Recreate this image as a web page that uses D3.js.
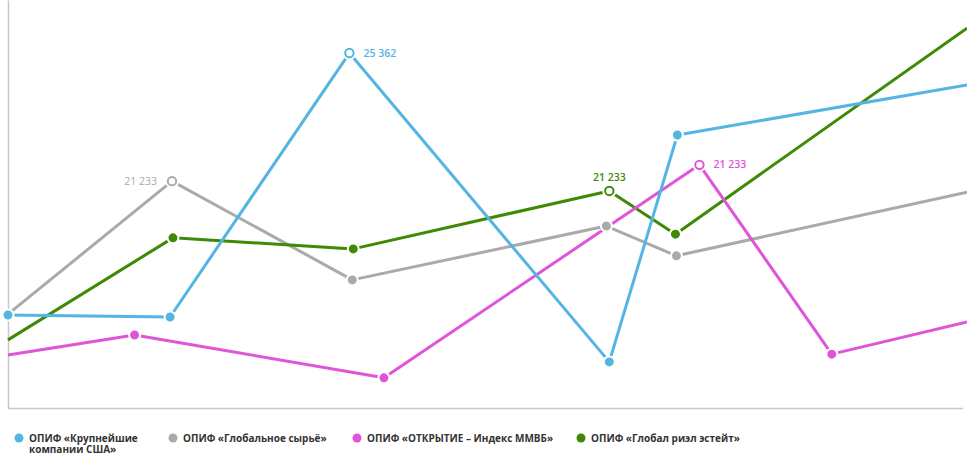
<!DOCTYPE html>
<html><head><meta charset="utf-8">
<script src="https://cdn.jsdelivr.net/npm/d3@7"></script>
<style>
html,body{margin:0;padding:0;background:#fff;}
svg{display:block;font-family:"Open Sans",sans-serif;}
</style></head>
<body>
<svg id="c" width="967" height="454"></svg>
<script>
// ---- data ----
const seriesNames = ["ОПИФ «Крупнейшие компании США»", "ОПИФ «Глобальное сырьё»", "ОПИФ «ОТКРЫТИЕ – Индекс ММВБ»", "ОПИФ «Глобал риэл эстейт»"];
const legendLines = [["ОПИФ «Крупнейшие", "компании США»"], ["ОПИФ «Глобальное сырьё»"], ["ОПИФ «ОТКРЫТИЕ – Индекс ММВБ»"], ["ОПИФ «Глобал риэл эстейт»"]];
const colors = ["#55b5e2", "#aaaaaa", "#e055d8", "#3f8a04"];

// x positions (share of period, 0..100) and index values (0..100)
const usaX    = [0, 16.9, 35.6, 62.7, 69.8, 100];
const usaY    = [22.8, 22.3, 87.0, 11.3, 66.9, 79.2];
const rawX    = [0, 17.1, 35.9, 62.4, 69.7, 100];
const rawY    = [23.0, 55.6, 31.4, 44.6, 37.3, 52.9];
const mmvbX   = [0, 13.2, 39.2, 72.1, 85.9, 100];
const mmvbY   = [13.0, 17.9, 7.4, 59.6, 13.2, 21.1];
const reX     = [0, 17.2, 36.0, 62.7, 69.6, 100];
const reY     = [16.7, 41.7, 39.0, 53.2, 42.6, 93.1];

const markerIdx = [[0,1,2,3,4],[1,2,3,4],[1,2,3,4],[1,2,3,4]];
const highlightIdx = [2, 1, 3, 3];
const highlightLabels = ["25 362", "21 233", "21 233", "21 233"];
const labelPos = ["right", "left", "right", "top"];

const series = [
  {x: usaX, y: usaY}, {x: rawX, y: rawY}, {x: mmvbX, y: mmvbY}, {x: reX, y: reY}
];

// ---- chart ----
const svg = d3.select("#c");
const padL = 8, padR = 967, padT = 0, padB = 408;
const xS = d3.scaleLinear().domain([0, 100]).range([padL, padR]);
const yS = d3.scaleLinear().domain([0, 100]).range([padB, padT]);

// axes lines
const axY = d3.axisLeft(yS).ticks(0).tickSize(0).tickFormat("");
const axX = d3.axisBottom(xS).ticks(0).tickSize(0).tickFormat("");
svg.append("g").attr("transform", `translate(${padL},0)`).call(axY)
  .call(g => g.select(".domain").attr("stroke", "#c8c8c8").attr("stroke-width", 1.5));
svg.append("g").attr("transform", `translate(0,${padB})`).call(axX)
  .call(g => g.select(".domain").attr("stroke", "#c8c8c8").attr("stroke-width", 1.5).attr("d", `M${padL},0.5H${padR-4}`));

const line = d3.line().x(d => xS(d[0])).y(d => yS(d[1]));
const drawOrder = [1, 3, 2, 0];
const pts = series.map(s => s.x.map((v, i) => [v, s.y[i]]));

drawOrder.forEach(k => {
  svg.append("path").datum(pts[k]).attr("d", line)
    .attr("fill", "none").attr("stroke", colors[k]).attr("stroke-width", 3)
    .attr("stroke-linejoin", "round");
});

drawOrder.forEach(k => {
  const g = svg.append("g");
  markerIdx[k].forEach(i => {
    const p = pts[k][i];
    const cx = xS(p[0]), cy = yS(p[1]);
    if (i === highlightIdx[k]) {
      g.append("circle").attr("cx", cx).attr("cy", cy).attr("r", 7).attr("fill", "#fff");
      g.append("circle").attr("cx", cx).attr("cy", cy).attr("r", 4.2)
        .attr("fill", "#fff").attr("stroke", colors[k]).attr("stroke-width", 2);
    } else {
      g.append("circle").attr("cx", cx).attr("cy", cy).attr("r", 5.5)
        .attr("fill", colors[k]).attr("stroke", "#fff").attr("stroke-width", 2);
    }
  });
  const hp = pts[k][highlightIdx[k]];
  const hx = xS(hp[0]), hy = yS(hp[1]);
  const t = g.append("text").text(highlightLabels[k])
    .attr("fill", colors[k]).attr("font-size", 10.5).attr("font-weight", k === 1 ? 400 : 600);
  if (labelPos[k] === "right") t.attr("x", hx + 14).attr("y", hy + 3.5).attr("text-anchor", "start");
  else if (labelPos[k] === "left") t.attr("x", hx - 15).attr("y", hy + 3.5).attr("text-anchor", "end");
  else t.attr("x", hx).attr("y", hy - 10).attr("text-anchor", "middle");
});

// legend
const legX = [19, 173, 357, 581];
const leg = svg.append("g");
seriesNames.forEach((n, k) => {
  leg.append("circle").attr("cx", legX[k]).attr("cy", 438).attr("r", 4.5).attr("fill", colors[k]);
  legendLines[k].forEach((l, j) => {
    leg.append("text").attr("x", legX[k] + 10).attr("y", 442 + j * 11)
      .attr("font-size", 10).attr("font-weight", 700).attr("fill", "#333").text(l);
  });
});
</script>
</body></html>
